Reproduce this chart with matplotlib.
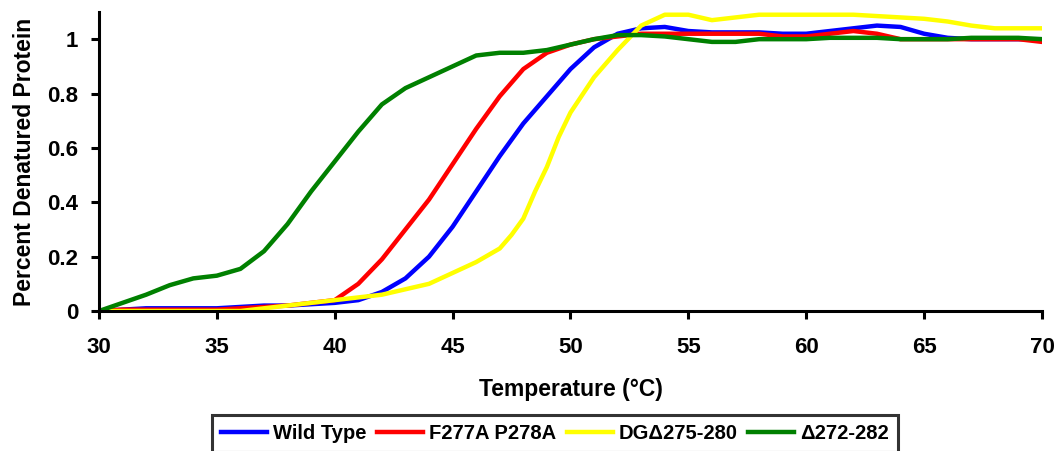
import matplotlib
matplotlib.use("Agg")
import matplotlib.pyplot as plt

plt.rcParams['font.family'] = ['Liberation Sans', 'DejaVu Sans']
plt.rcParams['font.weight'] = 'bold'

temp = [30, 31, 32, 33, 34, 35, 36, 37, 38, 39, 40, 41, 42, 43, 44, 45, 46, 47, 48, 49, 50,
        51, 52, 53, 54, 55, 56, 57, 58, 59, 60, 61, 62, 63, 64, 65, 66, 67, 68, 69, 70]

wild_type = [0, 0.005, 0.01, 0.01, 0.01, 0.01, 0.015, 0.02, 0.02, 0.025, 0.03, 0.04, 0.07, 0.12,
             0.2, 0.31, 0.44, 0.57, 0.69, 0.79, 0.89, 0.97, 1.02, 1.04, 1.045, 1.03, 1.025, 1.025,
             1.025, 1.02, 1.02, 1.03, 1.04, 1.05, 1.045, 1.02, 1.005, 1.0, 1.0, 1.0, 1.0]

f277a = [0, 0.005, 0.005, 0.005, 0.005, 0.005, 0.01, 0.015, 0.02, 0.03, 0.04, 0.1, 0.19, 0.3,
         0.41, 0.54, 0.67, 0.79, 0.89, 0.95, 0.98, 1.0, 1.01, 1.02, 1.02, 1.02, 1.02, 1.02, 1.02,
         1.01, 1.01, 1.02, 1.03, 1.02, 1.0, 1.0, 1.0, 1.0, 1.0, 1.0, 0.99]

temp_dg = [30, 31, 32, 33, 34, 35, 36, 37, 38, 39, 40, 41, 42, 43, 44, 45, 46, 47, 47.5, 48,
           48.5, 49, 49.5, 50, 51, 52, 53, 54, 55, 56, 57, 58, 59, 60, 61, 62, 63, 64, 65, 66,
           67, 68, 69, 70]
dg = [0, 0, 0, 0, 0, 0, 0, 0.01, 0.02, 0.03, 0.04, 0.05, 0.06, 0.08, 0.1, 0.14, 0.18, 0.23,
      0.28, 0.34, 0.44, 0.53, 0.64, 0.73, 0.86, 0.96, 1.05, 1.09, 1.09, 1.07, 1.08, 1.09, 1.09,
      1.09, 1.09, 1.09, 1.085, 1.08, 1.075, 1.065, 1.05, 1.04, 1.04, 1.04]

d272 = [0, 0.03, 0.06, 0.095, 0.12, 0.13, 0.155, 0.22, 0.32, 0.44, 0.55, 0.66, 0.76, 0.82,
        0.86, 0.9, 0.94, 0.95, 0.95, 0.96, 0.98, 1.0, 1.015, 1.015, 1.01, 1.0, 0.99, 0.99, 1.0,
        1.0, 1.0, 1.005, 1.005, 1.005, 1.0, 1.0, 1.0, 1.005, 1.005, 1.005, 1.0]

labels = ["Wild Type", "F277A P278A", "DG\u0394275-280", "\u0394272-282"]
colors = ["#0000FF", "#FF0000", "#FFFF00", "#008000"]

fig = plt.figure(figsize=(10.54, 4.51), dpi=100)
ax = fig.add_axes([0.0939, 0.3104, 0.8947, 0.663])

series = [(temp, wild_type), (temp, f277a), (temp_dg, dg), (temp, d272)]
for (x, y), lab, c in zip(series, labels, colors):
    ax.plot(x, y, color=c, lw=3.2, label=lab, solid_joinstyle='round')

ax.set_xlim(30, 70)
ax.set_ylim(0, 1.1)
ax.set_xticks(range(30, 71, 5))
ax.set_yticks([0, 0.2, 0.4, 0.6, 0.8, 1.0])
ax.set_yticklabels(["0", "0.2", "0.4", "0.6", "0.8", "1"])
for s in ["top", "right"]:
    ax.spines[s].set_visible(False)
for s in ["left", "bottom"]:
    ax.spines[s].set_linewidth(2.2)
ax.tick_params(axis='both', width=2.2, length=6, labelsize=16, direction='out')
ax.tick_params(axis='x', pad=13)
ax.tick_params(axis='y', pad=9)
for t in ax.get_xticklabels() + ax.get_yticklabels():
    t.set_fontweight('bold')

ax.set_xlabel("Temperature (\u00b0C)", fontsize=16.5, fontweight='bold', labelpad=14)
ax.set_ylabel("Percent Denatured Protein", fontsize=16.5, fontweight='bold', labelpad=8)

leg = fig.legend(loc='upper center', bbox_to_anchor=(0.5266, 0.0798), ncol=4, frameon=True,
                 fancybox=False, edgecolor='black', fontsize=14.5, handlelength=2.3,
                 handletextpad=0.3, columnspacing=0.5, borderpad=0.45, borderaxespad=0)
leg.get_frame().set_linewidth(2.2)
for t in leg.get_texts():
    t.set_fontweight('bold')

fig.savefig("out.png", dpi=100)
